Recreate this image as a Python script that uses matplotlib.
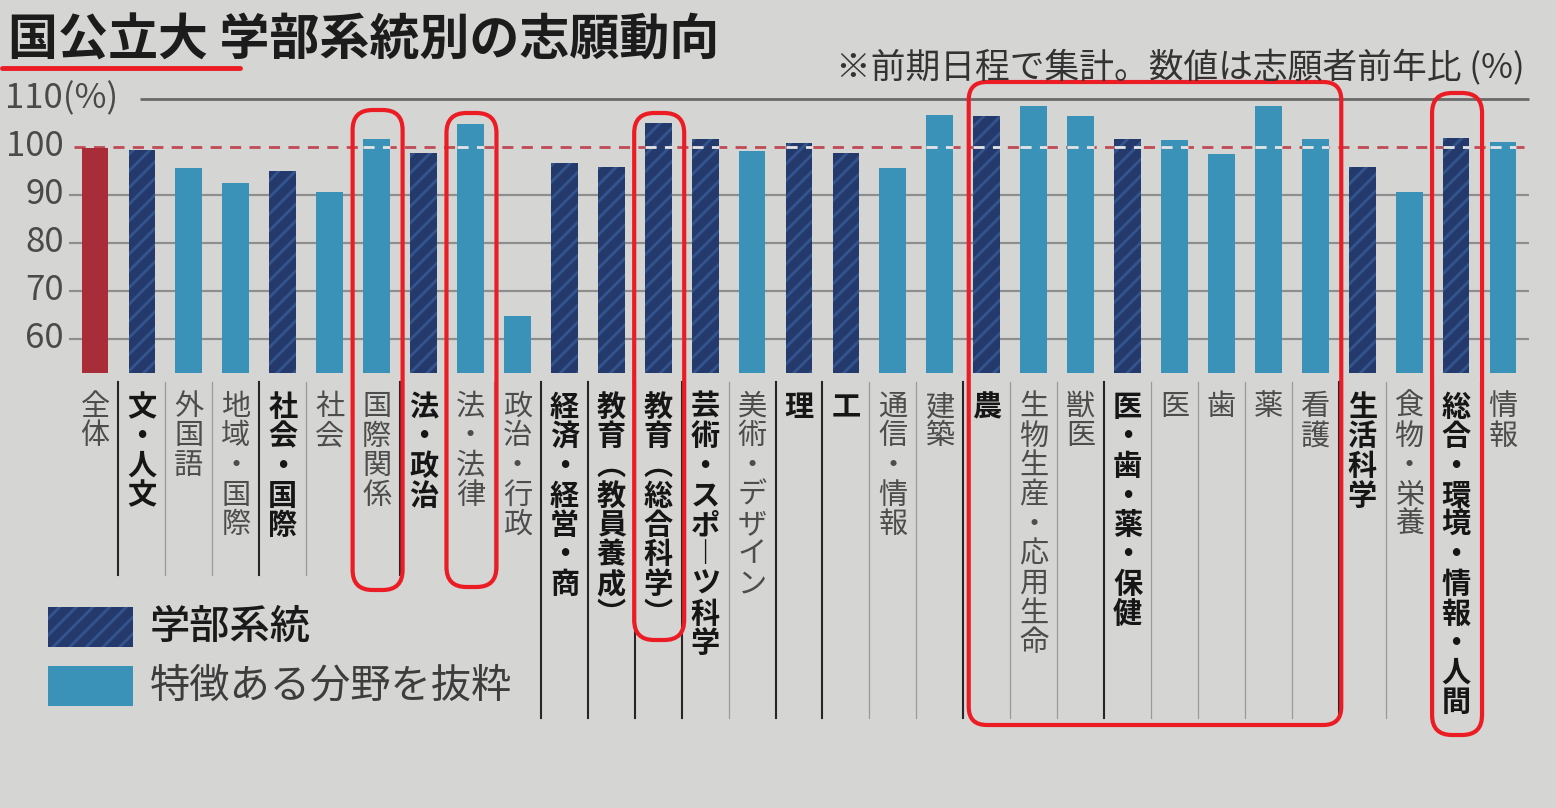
import matplotlib.pyplot as plt
from matplotlib.patches import Rectangle, FancyBboxPatch
from matplotlib.transforms import blended_transform_factory

plt.rcParams["font.family"] = ["Noto Sans CJK JP", "DejaVu Sans"]

# --- data (志願者前年比, %) ---
categories = [
    "全体", "文・人文", "外国語", "地域・国際", "社会・国際", "社会", "国際関係",
    "法・政治", "法・法律", "政治・行政", "経済・経営・商", "教育（教員養成）",
    "教育（総合科学）", "芸術・スポーツ科学", "美術・デザイン", "理", "工",
    "通信・情報", "建築", "農", "生物生産・応用生命", "獣医", "医・歯・薬・保健",
    "医", "歯", "薬", "看護", "生活科学", "食物・栄養", "総合・環境・情報・人間", "情報",
]
values = [
    99.7, 99.3, 95.6, 92.6, 94.9, 90.7, 101.7,
    98.7, 104.8, 64.8, 96.7, 95.8,
    104.9, 101.7, 99.2, 100.8, 98.7,
    95.7, 106.6, 106.5, 108.5, 106.4, 101.6,
    101.4, 98.6, 108.5, 101.6, 95.9, 90.7, 101.9, 101.0,
]
# "total" = 全体, "main" = 学部系統, "sub" = 特徴ある分野を抜粋
kinds = [
    "total", "main", "sub", "sub", "main", "sub", "sub",
    "main", "sub", "sub", "main", "main",
    "main", "main", "sub", "main", "main",
    "sub", "sub", "main", "sub", "sub", "main",
    "sub", "sub", "sub", "sub", "main", "sub", "main", "sub",
]
highlight_single = ["国際関係", "法・法律", "教育（総合科学）", "総合・環境・情報・人間"]
highlight_group = ("農", "看護")

yticks = [60, 70, 80, 90, 100, 110]
legend_labels = ["学部系統", "特徴ある分野を抜粋"]
title = "国公立大 学部系統別の志願動向"
note = "※前期日程で集計。数値は志願者前年比 (%)"

# --- style ---
W, H = 1556, 808
PAPER = "#d5d5d3"
COLORS = {"total": "#a82d38", "main": "#243a6c", "sub": "#3a92b9"}
HATCH = {"total": None, "main": "//", "sub": None}
HATCH_EC = {"total": "#a82d38", "main": "#34548e", "sub": "#3a92b9"}
RED = "#ec1c24"
VERT = {"（": "︵", "）": "︶", "ー": "︱"}

plt.rcParams["hatch.linewidth"] = 2.0

fig = plt.figure(figsize=(W / 100, H / 100), dpi=100, facecolor=PAPER)

# main axes in pixel layout
ax_l, ax_r, y110, px_per = 66, 1530, 99, 4.8
ybot, ytop = 53, 111
top_px = y110 - (ytop - 110) * px_per
bot_px = y110 + (110 - ybot) * px_per
ax = fig.add_axes([ax_l / W, 1 - bot_px / H, (ax_r - ax_l) / W, (bot_px - top_px) / H])
ax.set_facecolor("none")
step = (1503 - 95) / 30
ax.set_xlim(-(95 - ax_l) / step, 30 + (ax_r - 1503) / step)
ax.set_ylim(ybot, ytop)
for s in ax.spines.values():
    s.set_visible(False)
ax.set_xticks([])
ax.set_yticks([])

x = list(range(len(categories)))
bw = 0.57
heights = [v - ybot for v in values]
ax.bar(x, heights, bottom=ybot, width=bw,
       color=[COLORS[k] for k in kinds],
       edgecolor=[HATCH_EC[k] for k in kinds],
       linewidth=0, zorder=2)
# diagonal stripes on 学部系統 bars
for xi, h, k in zip(x, heights, kinds):
    if HATCH[k]:
        ax.bar(xi, h, bottom=ybot, width=bw, color="none", edgecolor=HATCH_EC[k],
               hatch=HATCH[k], linewidth=0, zorder=2.1)

# grid
ax.hlines([60, 70, 80, 90], -0.55, 30.55, colors="#8e8e8e", linewidth=1.6, zorder=0)
ax.hlines(110, 0.95, 30.55, colors="#6a6a6a", linewidth=2.0, zorder=0)
ax.hlines(100, -0.45, 30.55, colors="#c04a55", linewidth=2.0,
          linestyles=(0, (4, 3)), zorder=1)
for xi, v in zip(x, values):
    if v > 100:
        ax.hlines(100, xi - bw / 2, xi + bw / 2, colors="#e4e4e4", linewidth=2.0,
                  linestyles=(0, (4, 3)), zorder=3)

# y labels
ytr = blended_transform_factory(fig.transFigure, ax.transData)
for t in yticks:
    if t == 110:
        ax.text(5 / W, t, "110(%)", transform=ytr, ha="left", va="center",
                fontsize=25, color="#4a4a4a")
    else:
        ax.text(64 / W, t, str(t), transform=ytr, ha="right", va="center",
                fontsize=25, color="#4a4a4a")

# overlay in pixel coordinates
ov = fig.add_axes([0, 0, 1, 1], zorder=5)
ov.set_xlim(0, W)
ov.set_ylim(H, 0)
ov.axis("off")
ov.patch.set_alpha(0)


def px(i):
    return ax.transData.transform((i, 0))[0]


# vertical category labels
first_c, cstep = 407, 29.5
for i, (name, k) in enumerate(zip(categories, kinds)):
    bold = k == "main"
    for j, ch in enumerate(name):
        ov.text(px(i), first_c + j * cstep, VERT.get(ch, ch), ha="center", va="center",
                fontsize=21, fontweight="bold" if bold else "normal",
                color="#161616" if bold else "#4d4d4d")

# column separators
for i in range(1, len(categories)):
    xs = (px(i - 1) + px(i)) / 2
    dark = kinds[i] == "main"
    y_end = 575 if i <= 9 else 718
    ov.plot([xs, xs], [382, y_end], color="#262626" if dark else "#9a9a9a",
            linewidth=1.5 if dark else 0.9, zorder=1)

# legend
for (lab, k, yc) in [(legend_labels[0], "main", 627), (legend_labels[1], "sub", 686)]:
    ov.add_patch(Rectangle((48, yc - 20), 85, 40, facecolor=COLORS[k],
                           edgecolor=HATCH_EC[k], hatch=HATCH[k], linewidth=0))
    ov.text(150, yc, lab, ha="left", va="center", fontsize=29,
            fontweight="medium" if k == "main" else "normal",
            color="#1a1a1a" if k == "main" else "#3d3d3d")

# title and note
ov.text(8, 41, title, ha="left", va="center", fontsize=36, fontweight="bold",
        color="#1c1c1c")
ov.text(1525, 68, note, ha="right", va="center", fontsize=25, color="#333333")

# red hand-drawn highlights
ov.plot([2, 240], [68, 68], color=RED, linewidth=3.5, solid_capstyle="round")
box_y = {"国際関係": (110, 590), "法・法律": (113, 587),
         "教育（総合科学）": (113, 640), "総合・環境・情報・人間": (93, 735)}
for name in highlight_single:
    i = categories.index(name)
    y0, y1 = box_y[name]
    ov.add_patch(FancyBboxPatch((px(i) - 24, y0), 50, y1 - y0,
                                boxstyle="round,pad=0,rounding_size=20",
                                facecolor="none", edgecolor=RED, linewidth=3))
g0, g1 = categories.index(highlight_group[0]), categories.index(highlight_group[1])
ov.add_patch(FancyBboxPatch((px(g0) - 18, 82), px(g1) + 26 - (px(g0) - 18), 725 - 82,
                            boxstyle="round,pad=0,rounding_size=18",
                            facecolor="none", edgecolor=RED, linewidth=3))

fig.savefig("out.png", dpi=100, facecolor=PAPER)
